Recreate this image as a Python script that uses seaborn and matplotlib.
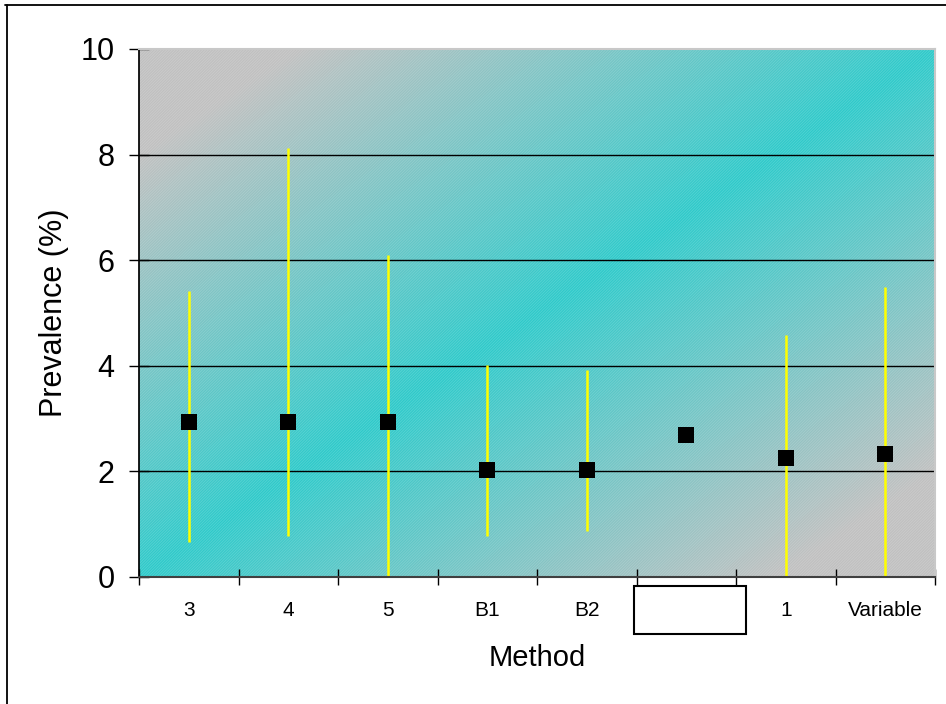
import numpy as np
import pandas as pd
import matplotlib
matplotlib.use("Agg")
import matplotlib.pyplot as plt
from matplotlib.patches import Rectangle
from matplotlib.lines import Line2D
import seaborn as sns

# ---- data ----
methods = ["3", "4", "5", "B1", "B2", "", "1", "Variable"]
prevalence = [2.94, 2.94, 2.94, 2.03, 2.03, 2.68, 2.26, 2.33]
ci_lower = [0.66, 0.78, 0.0, 0.77, 0.87, np.nan, 0.0, 0.0]
ci_upper = [5.42, 8.12, 6.10, 4.02, 3.92, np.nan, 4.59, 5.50]
y_ticks = [0, 2, 4, 6, 8, 10]

df = pd.DataFrame({"pos": np.arange(len(methods)), "method": methods,
                   "prev": prevalence, "lo": ci_lower, "hi": ci_upper})

sns.set_theme(style="white")
plt.rcParams["font.family"] = ["Liberation Sans", "DejaVu Sans"]
plt.rcParams["text.color"] = "black"
plt.rcParams["axes.labelcolor"] = "black"
plt.rcParams["xtick.color"] = "black"
plt.rcParams["ytick.color"] = "black"
plt.rcParams["hatch.linewidth"] = 0.6

fig = plt.figure(figsize=(9.46, 7.04), dpi=100)
ax = fig.add_axes([139/946, 1-577/704, (935-139)/946, (577-49)/704])

# gradient background
H, W = 300, 450
xf = np.linspace(0, 1, W)[None, :]
yf = np.linspace(1, 0, H)[:, None]
t = np.clip(np.abs(xf - yf) * 1.25, 0, 1)
cyan = np.array([45, 202, 202]) / 255
grey = np.array([192, 192, 192]) / 255
img = cyan[None, None, :] * (1 - t[..., None]) + grey[None, None, :] * t[..., None]
ax.imshow(img, extent=(-0.5, len(methods) - 0.5, 0, 10), aspect="auto",
          zorder=0, interpolation="bilinear")
ax.add_patch(Rectangle((-0.5, 0), len(methods), 10, facecolor="none",
                       edgecolor=(1, 1, 1, 0.18), hatch="////////////",
                       linewidth=0, zorder=0.5))

# gridlines
for yv in y_ticks[1:-1]:
    ax.axhline(yv, color="black", lw=1.0, zorder=1)

# error bars
ax.vlines(df["pos"], df["lo"], df["hi"], color="#FFFF00", lw=1.8, zorder=2)

# points
sns.scatterplot(data=df, x="pos", y="prev", marker="s", s=120, color="black",
                edgecolor="black", linewidth=0, ax=ax, zorder=3, legend=False)

ax.set_xlim(-0.5, len(methods) - 0.5)
ax.set_ylim(0, 10)
ax.set_yticks(y_ticks)
ax.set_yticklabels([str(v) for v in y_ticks], fontsize=22)
ax.set_xticks(np.arange(len(methods) + 1) - 0.5)
ax.set_xticklabels([])
ax.set_xticks(np.arange(len(methods)), minor=True)
ax.set_xticklabels(methods, minor=True, fontsize=15)
ax.tick_params(axis="y", direction="inout", length=15, width=1, color="black",
               pad=10, left=True)
ax.tick_params(axis="x", which="major", direction="inout", length=11, width=1,
               color="black", bottom=True)
ax.tick_params(axis="x", which="minor", length=0, pad=17, bottom=True)

ax.set_xlabel("Method", fontsize=21)
ax.xaxis.set_label_coords(0.5, -0.127)
ax.xaxis.label.set_va("top")
ax.set_ylabel("Prevalence (%)", fontsize=22)
ax.yaxis.set_label_coords(-0.088, 0.5)

for side in ["top", "right"]:
    ax.spines[side].set_color("#c8c8c8")
    ax.spines[side].set_linewidth(1.5)
ax.spines["left"].set_color("black")
ax.spines["bottom"].set_color("#404040")
ax.spines["bottom"].set_linewidth(1.5)

# blank label box for the unnamed category
tr = ax.get_xaxis_transform()
ax.add_patch(Rectangle((4.475, -0.108), 1.125, 0.091, transform=tr,
                       facecolor="white", edgecolor="black", lw=1.5,
                       clip_on=False, zorder=5))

# figure border (top and left only visible)
fig.add_artist(Line2D([5/946, 1], [1-5/704, 1-5/704], color="black", lw=1.3,
                      transform=fig.transFigure))
fig.add_artist(Line2D([7/946, 7/946], [0, 1-5/704], color="black", lw=1.3,
                      transform=fig.transFigure))

fig.savefig("out.png", dpi=100)
